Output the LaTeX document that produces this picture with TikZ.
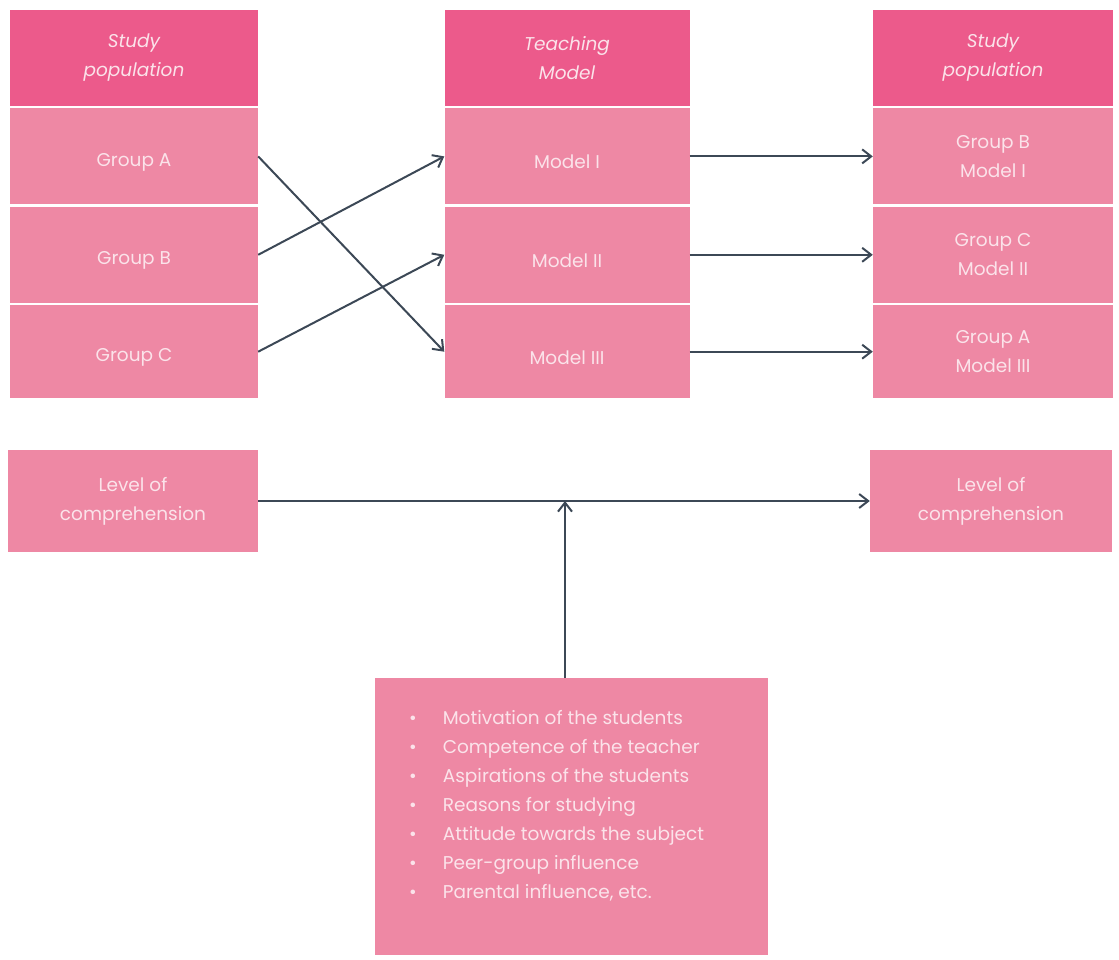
\documentclass[tikz,border=0pt]{standalone}
\usepackage{fontspec}
\setmainfont{Poppins}
\usetikzlibrary{positioning,arrows.meta}

\definecolor{headpink}{HTML}{EC5A8B}
\definecolor{rowpink}{HTML}{EE88A4}
\definecolor{txtpink}{HTML}{FBE3EA}
\definecolor{arrowgray}{HTML}{3C4856}

\newcommand{\lowtxt}[1]{\rule{0pt}{25pt}#1}

\tikzset{
  cell/.style={rectangle,fill=rowpink,text=txtpink,minimum width=248pt,
    minimum height=96pt,align=center,inner sep=0pt,
    font=\fontsize{18.5}{29}\selectfont},
  head/.style={cell,fill=headpink,font=\fontsize{18.5}{29}\selectfont\itshape},
  link/.style={draw=arrowgray,line width=2pt,-{Straight Barb[length=9pt,width=14pt]}},
}

\begin{document}
\begin{tikzpicture}[x=1pt,y=-1pt]
  \useasboundingbox (0,0) rectangle (1119,960);
  % left column
  \node[head] (popA) at (134,58) {Study\\population};
  \node[cell,below=2pt of popA] (grpA) {\lowtxt{Group A}};
  \node[cell,below=2pt of grpA] (grpB) {\lowtxt{Group B}};
  \node[cell,below=2pt of grpB,minimum height=93pt] (grpC) {\lowtxt{Group C}};
  % middle column
  \node[head,minimum width=245pt] (teach) at (567,58) {Teaching\\Model};
  \node[cell,minimum width=245pt,below=2pt of teach] (modI) {\lowtxt{Model I}};
  \node[cell,minimum width=245pt,below=2pt of modI] (modII) {\lowtxt{Model II}};
  \node[cell,minimum width=245pt,below=2pt of modII,minimum height=93pt] (modIII) {\lowtxt{Model III}};
  % right column
  \node[head,minimum width=240pt] (popB) at (993,58) {Study\\population};
  \node[cell,minimum width=240pt,below=2pt of popB] (resB) {Group B\\Model I};
  \node[cell,minimum width=240pt,below=2pt of resB] (resC) {Group C\\Model II};
  \node[cell,minimum width=240pt,below=2pt of resC,minimum height=93pt] (resA) {Group A\\Model III};
  % comprehension
  \node[cell,minimum width=250pt,minimum height=102pt] (lvlL) at (133,501) {Level of\\comprehension};
  \node[cell,minimum width=242pt,minimum height=102pt] (lvlR) at (991,501) {Level of\\comprehension};
  % factors
  \node[cell,minimum width=393pt,minimum height=277pt,anchor=north west] (factors) at (375,678) {};
  \node[text=txtpink,anchor=north west,align=left,inner sep=0pt,
        font=\fontsize{18.5}{29}\selectfont] (flist) at (409,710) {%
    \textbullet\hspace{26pt}Motivation of the students\\
    \textbullet\hspace{26pt}Competence of the teacher\\
    \textbullet\hspace{26pt}Aspirations of the students\\
    \textbullet\hspace{26pt}Reasons for studying\\
    \textbullet\hspace{26pt}Attitude towards the subject\\
    \textbullet\hspace{26pt}Peer-group influence\\
    \textbullet\hspace{26pt}Parental influence, etc.};
  \coordinate (meet) at (565,501);
  %
  \draw[link] (grpA.east) -- (modIII.west);
  \draw[link] (grpB.east) -- (modI.west);
  \draw[link] (grpC.east) -- (modII.west);
  \draw[link] (modI.east) -- (resB.west);
  \draw[link] (modII.east) -- (resC.west);
  \draw[link] (modIII.east) -- (resA.west);
  \draw[link] (lvlL.east) -- (lvlR.west);
  \draw[link] (factors.north -| meet) -- (meet);
\end{tikzpicture}
\end{document}
